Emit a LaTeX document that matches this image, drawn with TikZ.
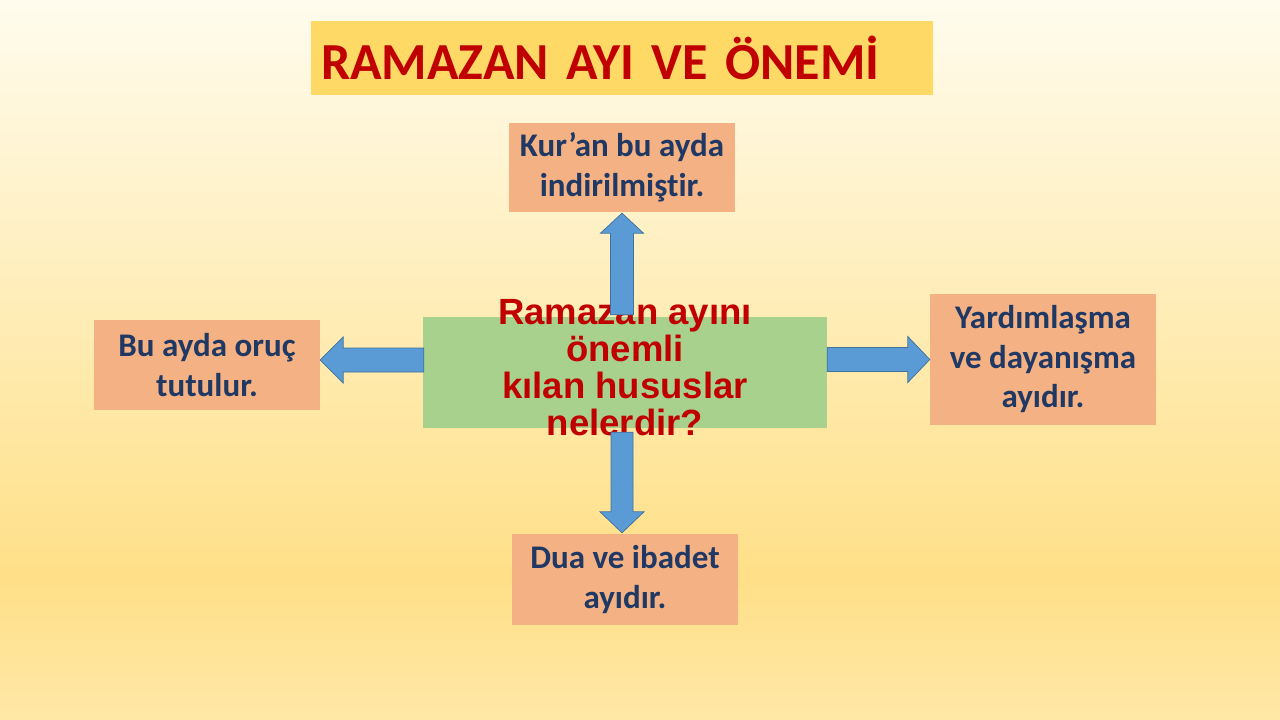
\documentclass[tikz,border=0pt]{standalone}
\usepackage{fontspec}
\setmainfont{Carlito}[Ligatures=NoCommon]
\newfontfamily\arialfont{Liberation Sans}
\usetikzlibrary{positioning, calc}

\definecolor{bgtop}{HTML}{FFFCEE}
\definecolor{bgdeep}{HTML}{FFE088}
\definecolor{bgbot}{HTML}{FFE7A6}
\definecolor{titlefill}{HTML}{FFD966}
\definecolor{boxfill}{HTML}{F4B183}
\definecolor{ctrfill}{HTML}{A9D18E}
\definecolor{arrowfill}{HTML}{5B9BD5}
\definecolor{arrowedge}{HTML}{41719C}
\definecolor{textred}{HTML}{C00000}
\definecolor{textblue}{HTML}{1F3864}

\tikzset{
  titlebox/.style={rectangle, fill=titlefill, text=textred, font=\bfseries\fontsize{52}{60}\selectfont, text width=602pt, align=left, inner xsep=10pt, inner ysep=0pt, minimum height=74pt},
  infobox/.style={rectangle, fill=boxfill, text=textblue, font=\bfseries\fontsize{33}{39.5}\selectfont, align=center, inner sep=0pt, minimum width=226pt},
  ctrbox/.style={rectangle, fill=ctrfill, inner sep=0pt, minimum width=404pt, minimum height=111pt},
  ctrtext/.style={text=textred, font=\arialfont\bfseries\fontsize{36.5}{37}\selectfont, align=center, inner sep=0pt},
  blockarr/.style={fill=arrowfill, draw=arrowedge, line width=0.75pt, line join=miter}
}

\begin{document}
\begin{tikzpicture}[x=1pt, y=-1pt]
  \useasboundingbox (0,0) rectangle (1280,720);
  \shade[top color=bgtop, bottom color=bgdeep] (0,0) rectangle (1280,576);
  \shade[top color=bgdeep, bottom color=bgbot] (0,576) rectangle (1280,720);

  % title and boxes
  \node[titlebox] (title) at (622,58) {RAMAZAN AYI VE ÖNEMİ};
  \node[infobox, minimum height=89pt] (quran) at (622,167.5) {Kur’an bu ayda\\indirilmiştir.};
  \node[infobox, minimum height=90pt] (fast) at (207,365) {Bu ayda oruç\\tutulur.};
  \node[infobox, minimum height=131pt] (help) at (1043,359.5) {Yardımlaşma\\ve dayanışma\\ayıdır.};
  \node[infobox, minimum height=91pt] (pray) at (625,579.5) {Dua ve ibadet\\ayıdır.};
  \node[ctrbox] (ctr) at (625,372.5) {};
  \node[ctrtext] (ctrtxt) at (625,368) {Ramazan ayını\\önemli\\kılan hususlar\\nelerdir?};

  % block arrows
  \coordinate (upbase) at ($(ctr.north -| quran.south)+(0,-2)$);
  \coordinate (uptip) at ($(quran.south)+(0,1)$);
  \draw[blockarr] ($(upbase)+(-11.5,0)$) -- ($(uptip)+(-11.5,20)$) -- ($(uptip)+(-21.5,20)$) -- (uptip)
    -- ($(uptip)+(21.5,20)$) -- ($(uptip)+(11.5,20)$) -- ($(upbase)+(11.5,0)$) -- cycle;

  \coordinate (dnbase) at ($(ctr.south -| quran.south)+(0,4)$);
  \coordinate (dntip) at ($(pray.north -| quran.south)+(0,-1)$);
  \draw[blockarr] ($(dnbase)+(-11,0)$) -- ($(dntip)+(-11,-21)$) -- ($(dntip)+(-22,-21)$) -- (dntip)
    -- ($(dntip)+(22,-21)$) -- ($(dntip)+(11,-21)$) -- ($(dnbase)+(11,0)$) -- cycle;

  \coordinate (lftip) at ($(fast.east)+(0,-5)$);
  \coordinate (lfbase) at ($(ctr.west |- lftip)+(1,0)$);
  \draw[blockarr] ($(lfbase)+(0,-12)$) -- ($(lftip)+(23,-12)$) -- ($(lftip)+(23,-23)$) -- (lftip)
    -- ($(lftip)+(23,23)$) -- ($(lftip)+(23,12)$) -- ($(lfbase)+(0,12)$) -- cycle;

  \coordinate (rttip) at (help.west);
  \coordinate (rtbase) at (ctr.east |- rttip);
  \draw[blockarr] ($(rtbase)+(0,-12)$) -- ($(rttip)+(-22,-12)$) -- ($(rttip)+(-22,-23)$) -- (rttip)
    -- ($(rttip)+(-22,23)$) -- ($(rttip)+(-22,12)$) -- ($(rtbase)+(0,12)$) -- cycle;
\end{tikzpicture}
\end{document}
